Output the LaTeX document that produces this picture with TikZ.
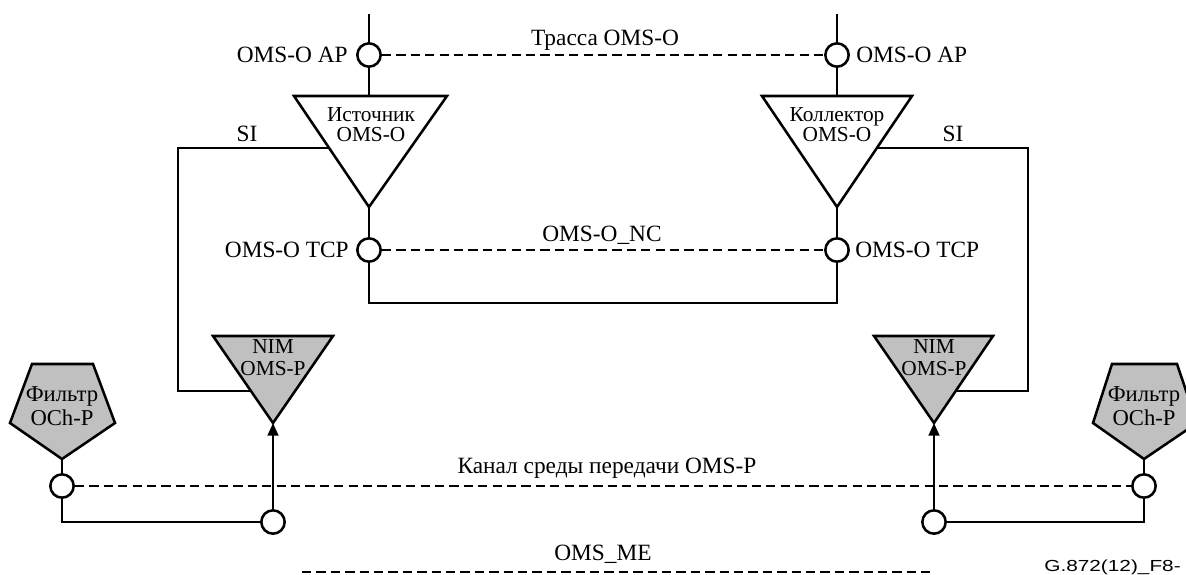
\documentclass[tikz,border=0pt]{standalone}
\usepackage{fontspec}
\setmainfont{Liberation Serif}
\newfontfamily\figsans{Liberation Sans}
\usetikzlibrary{arrows.meta,calc}

\definecolor{shade}{RGB}{192,192,192}

\tikzset{
  conn/.style={circle,draw,line width=1.9pt,fill=white,minimum size=17.5pt,inner sep=0pt},
  link/.style={draw,line width=1.9pt},
  trail/.style={draw,line width=1.9pt,dash pattern=on 7pt off 3.8pt},
  lbl/.style={inner sep=0pt,font=\fontsize{17.5}{19}\selectfont},
  fnlbl/.style={inner sep=0pt,align=center,font=\fontsize{16}{15}\selectfont},
  nimlbl/.style={inner sep=0pt,align=center,font=\fontsize{16}{16.5}\selectfont},
  filtlbl/.style={inner sep=0pt,align=center,font=\fontsize{17}{18}\selectfont},
  fnbox/.style={draw,line width=1.9pt,line join=miter},
}

\begin{document}
\begin{tikzpicture}[x=0.75pt,y=-0.75pt]
\useasboundingbox (0,0) rectangle (1186,575);

% ---- OMS-O source side ----
\coordinate (topL) at (369,14);
\node[conn] (apL) at (369,55) {};
\draw[fnbox,fill=white] (294,96) coordinate (srcA) -- (447,96) coordinate (srcB)
  -- (369,207) coordinate (srcC) -- cycle;
\coordinate (srcTop) at (369,96);
\coordinate (srcSI) at (329,148);
\node[fnlbl] (srcTxt) at (371,125) {Источник\\OMS-O};
\node[conn] (tcpL) at (369,250) {};

% ---- OMS-O sink side ----
\coordinate (topR) at (837,14);
\node[conn] (apR) at (837,55) {};
\draw[fnbox,fill=white] (762,96) coordinate (snkA) -- (912,96) coordinate (snkB)
  -- (837,207) coordinate (snkC) -- cycle;
\coordinate (snkTop) at (837,96);
\coordinate (snkSI) at (877,148);
\node[fnlbl] (snkTxt) at (837,125) {Коллектор\\OMS-O};
\node[conn] (tcpR) at (837,250) {};

% vertical links in both columns
\draw[link] (topL) -- (apL.north);
\draw[link] (apL.south) -- (srcTop);
\draw[link] (srcC) -- (tcpL.north);
\draw[link] (topR) -- (apR.north);
\draw[link] (apR.south) -- (snkTop);
\draw[link] (snkC) -- (tcpR.north);

% loop below the termination connection points
\draw[link] (tcpL.south) -- ++(0,40) coordinate (loopL) -| (tcpR.south);

% trails
\draw[trail] (apL.east) -- (apR.west);
\draw[trail] (tcpL.east) -- (tcpR.west);

% ---- NIM functions ----
\draw[fnbox,fill=shade] (213,336) -- (333,336) -- (273,423) coordinate (nimLC) -- cycle;
\coordinate (nimLSI) at (251,391);
\node[nimlbl] (nimLTxt) at (273,358) {NIM\\OMS-P};
\draw[fnbox,fill=shade] (874,336) -- (993,336) -- (934,423) coordinate (nimRC) -- cycle;
\coordinate (nimRSI) at (955,391);
\node[nimlbl] (nimRTxt) at (934,358) {NIM\\OMS-P};

% server information links
\draw[link] (srcSI) -- (178,148) -- (178,391) -- (nimLSI);
\draw[link] (snkSI) -- (1028,148) -- (1028,391) -- (nimRSI);

% ---- OCh-P filters ----
\draw[fnbox,fill=shade] (32,364) -- (93,364) -- (115,423) -- (62,459) coordinate (filLB)
  -- (10,423) -- cycle;
\node[filtlbl] (filLTxt) at (62,406) {Фильтр\\OCh-P};
\draw[fnbox,fill=shade] (1112,364) -- (1177,364) -- (1197,423) -- (1144,459) coordinate (filRB)
  -- (1093,423) -- cycle;
\node[filtlbl] (filRTxt) at (1144,406) {Фильтр\\OCh-P};

\node[conn] (chL) at (62,486) {};
\node[conn] (chR) at (1144,486) {};
\node[conn] (mL) at (273,522) {};
\node[conn] (mR) at (934,522) {};

\draw[link] (filLB) -- (chL.north);
\draw[link] (filRB) -- (chR.north);
\draw[link] (chL.south) |- (mL.west);
\draw[link] (chR.south) |- (mR.east);
\draw[link,-{Triangle[length=9.5pt,width=8pt]}] (mL.north) -- (nimLC);
\draw[link,-{Triangle[length=9.5pt,width=8pt]}] (mR.north) -- (nimRC);

\draw[trail] (chL.east) -- (chR.west);

% maintenance entity
\coordinate (meA) at (302,572);
\coordinate (meB) at (930,572);
\draw[trail] (meA) -- (meB);

% ---- labels ----
\node[lbl,anchor=east] (apLl) at (348,55) {OMS-O AP};
\node[lbl,anchor=west] (apRl) at (856,55) {OMS-O AP};
\node[lbl,anchor=east] (tcpLl) at (349,250) {OMS-O TCP};
\node[lbl,anchor=west] (tcpRl) at (855,250) {OMS-O TCP};
\node[lbl] (siL) at (247,134) {SI};
\node[lbl] (siR) at (953,134) {SI};
\node[lbl] (trailTxt) at (605,40) {Трасса OMS-O};
\node[lbl] (ncTxt) at (602,235) {OMS-O\_NC};
\node[lbl] (chTxt) at (607,468) {Канал среды передачи OMS-P};
\node[lbl] (meTxt) at (603,554) {OMS\_ME};
\node[inner sep=0pt,anchor=east,font=\figsans\fontsize{12}{12}\selectfont] (figid)
  at (1181,567) {\scalebox{1.3}[1]{G.872(12)\_F8-}};
\end{tikzpicture}
\end{document}
